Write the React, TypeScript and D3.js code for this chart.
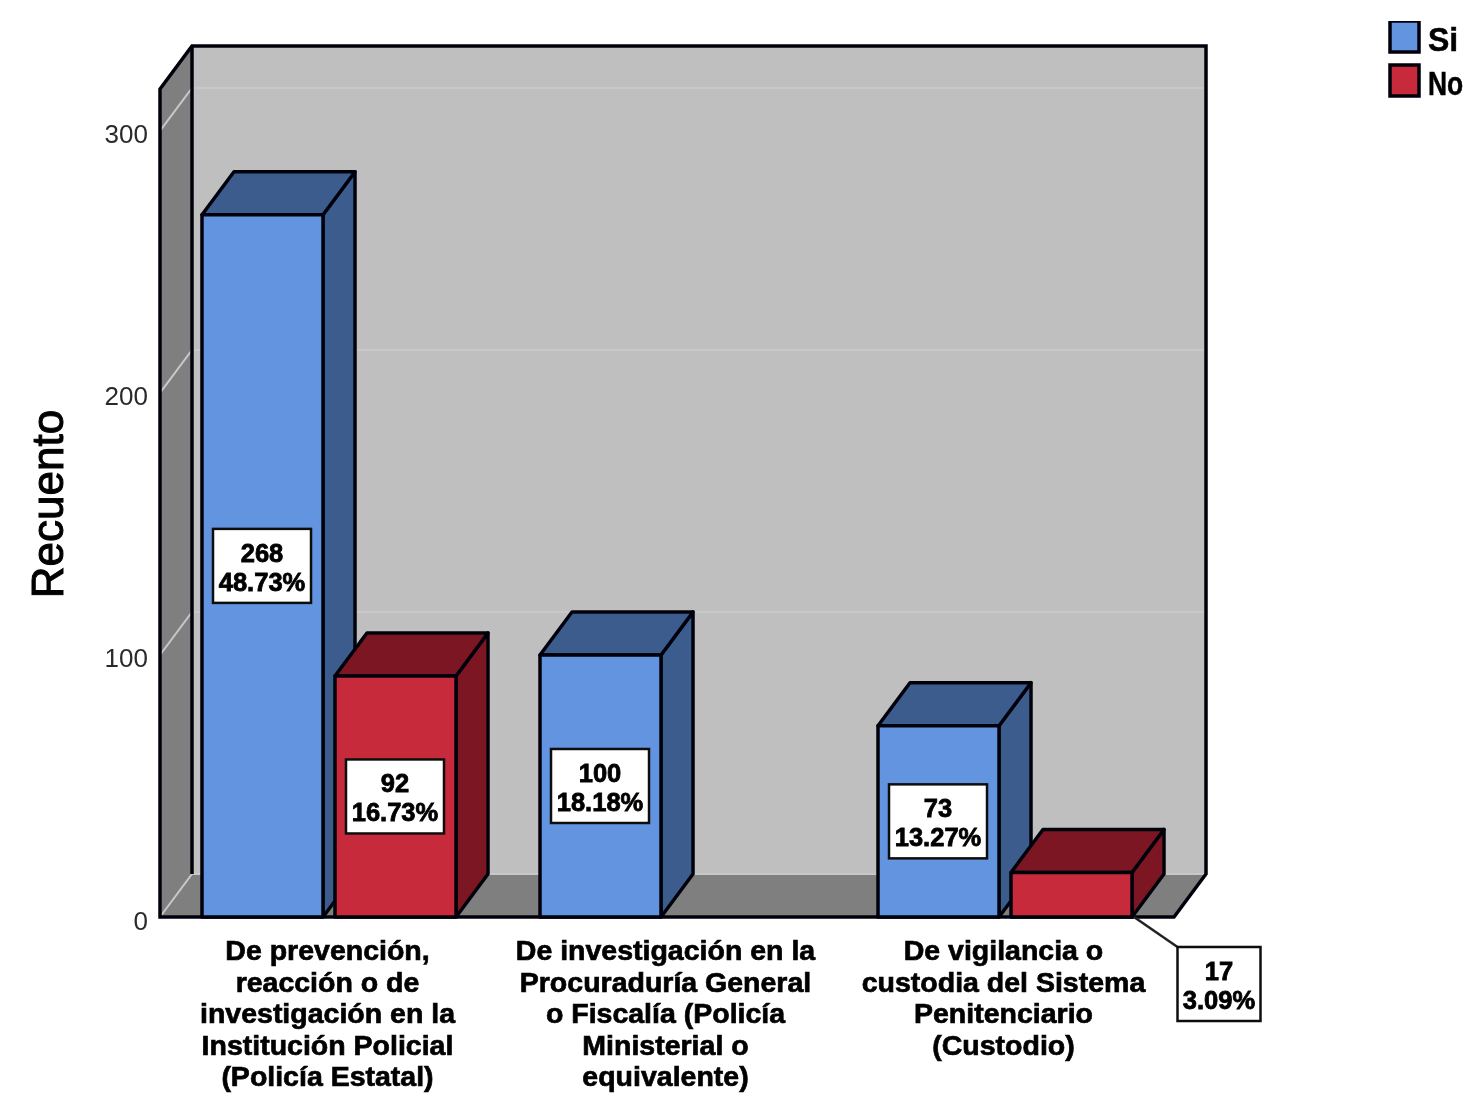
import React from 'react';
import * as d3 from 'd3';

const categories = [
  ['De prevención,', 'reacción o de', 'investigación en la', 'Institución Policial', '(Policía Estatal)'],
  ['De investigación en la', 'Procuraduría General', 'o Fiscalía (Policía', 'Ministerial o', 'equivalente)'],
  ['De vigilancia o', 'custodia del Sistema', 'Penitenciario', '(Custodio)'],
];
const seriesNames = ['Si', 'No'];
const siValues = [268, 100, 73];
const noValues = [92, null, 17];
const siPercents = ['48.73%', '18.18%', '13.27%'];
const noPercents = ['16.73%', null, '3.09%'];
const yTicks = [0, 100, 200, 300];

const width = 1465;
const height = 1096;
const font = '"Liberation Sans", Arial, sans-serif';

// oblique depth of the 3D box
const depthX = 32;
const depthY = -43;

const colors = {
  Si: { front: '#6394e0', dark: '#3d5c8e' },
  No: { front: '#c62a3b', dark: '#7c1421' },
};
const outline = '#02040a';
// legend text is squeezed so "No" stays inside the page
const legendTextScale = { Si: 0.97, No: 0.8 };

export default function App() {
  const groupIds = categories.map((_, i) => i);

  const x0 = d3.scaleBand<number>().domain(groupIds).range([160, 1174]).paddingInner(0.2485).paddingOuter(0.12425);
  const x1 = d3.scaleBand<string>().domain(seriesNames).range([0, x0.bandwidth()]).paddingInner(0.09);
  const y = d3.scaleLinear().domain([0, 316]).range([917, 89]);

  const left = x0.range()[0];
  const right = x0.range()[1];
  const floorY = y(0);
  const topY = y(316);

  const poly = (pts: number[][]) => pts.map((p) => p.join(',')).join(' ');

  const bars = seriesNames.flatMap((name, s) =>
    groupIds.map((g) => ({
      name,
      g,
      value: s === 0 ? siValues[g] : noValues[g],
      percent: s === 0 ? siPercents[g] : noPercents[g],
    }))
  ).filter((b) => b.value !== null);
  bars.sort((a, b) => a.g - b.g || seriesNames.indexOf(a.name) - seriesNames.indexOf(b.name));

  const labelStyle = { fontSize: 25.5, fontWeight: 'bold', fill: '#000', stroke: '#000', strokeWidth: 0.8 };

  return (
    <svg width={width} height={height} style={{ position: 'absolute', left: 0, top: 0, background: '#fff' }} fontFamily={font}>
      <defs>
        <filter id="soft" x="0" y="0" width="100%" height="100%">
          <feGaussianBlur stdDeviation="0.55" />
        </filter>
      </defs>
      <g filter="url(#soft)">
        {/* walls and floor */}
        <rect x={left + depthX} y={topY + depthY} width={right - left} height={floorY - topY} fill="#bfbfbf" />
        <polygon points={poly([[left, topY], [left + depthX, topY + depthY], [left + depthX, floorY + depthY], [left, floorY]])} fill="#7f7f7f" />
        <polygon points={poly([[left, floorY], [left + depthX, floorY + depthY], [right + depthX, floorY + depthY], [right, floorY]])} fill="#7f7f7f" />

        {/* gridlines run up the side wall and along the back */}
        {yTicks.map((t) => (
          <polyline
            key={t}
            points={poly([[left, y(t)], [left + depthX, y(t) + depthY], [right + depthX, y(t) + depthY]])}
            fill="none"
            stroke="#c8c8c8"
            strokeWidth={2}
          />
        ))}

        {/* box edges */}
        <path
          d={`M${left},${floorY}V${topY}L${left + depthX},${topY + depthY}H${right + depthX}V${floorY + depthY}L${right},${floorY}Z`}
          fill="none"
          stroke={outline}
          strokeWidth={3.5}
        />
        <line x1={left + depthX} x2={left + depthX} y1={topY + depthY} y2={floorY + depthY} stroke={outline} strokeWidth={3.5} />

        {/* bars */}
        {bars.map((b) => {
          const c = colors[b.name as keyof typeof colors];
          const xa = x0(b.g)! + x1(b.name)!;
          const xb = xa + x1.bandwidth();
          const yv = y(b.value as number);
          return (
            <g key={b.name + b.g} stroke={outline} strokeWidth={3.5} strokeLinejoin="round">
              <polygon points={poly([[xb, yv], [xb + depthX, yv + depthY], [xb + depthX, floorY + depthY], [xb, floorY]])} fill={c.dark} />
              <polygon points={poly([[xa, yv], [xa + depthX, yv + depthY], [xb + depthX, yv + depthY], [xb, yv]])} fill={c.dark} />
              <rect x={xa} y={yv} width={xb - xa} height={floorY - yv} fill={c.front} />
            </g>
          );
        })}

        {/* value labels */}
        {bars.map((b) => {
          const xa = x0(b.g)! + x1(b.name)!;
          const yv = y(b.value as number);
          const outside = (b.value as number) < 30;
          const cx = outside ? xa + x1.bandwidth() + 87 : xa + x1.bandwidth() / 2 - 0.5;
          const cy = outside ? floorY + 67 : (yv + floorY) / 2;
          const boxW = outside ? 83 : 98;
          return (
            <g key={'label' + b.name + b.g}>
              {outside && (
                <line x1={xa + x1.bandwidth() + 2} y1={floorY} x2={cx - boxW / 2} y2={cy - 37} stroke="#222" strokeWidth={2.5} />
              )}
              <rect x={cx - boxW / 2} y={cy - 37} width={boxW} height={74} fill="#fff" stroke="#111" strokeWidth={2.5} />
              <text x={cx} y={cy - 4} textAnchor="middle" style={labelStyle}>{b.value}</text>
              <text x={cx} y={cy + 25} textAnchor="middle" style={labelStyle}>{b.percent}</text>
            </g>
          );
        })}

        {/* y axis */}
        {yTicks.map((t) => (
          <text key={t} x={148} y={y(t) + 12.5} textAnchor="end" fontSize={26} fill="#2b2b2b">{t}</text>
        ))}
        <text transform="translate(63,504) rotate(-90)" textAnchor="middle" fontSize={44} fill="#000" stroke="#000" strokeWidth={1}>Recuento</text>

        {/* category labels */}
        {categories.map((lines, g) => (
          <text key={g} textAnchor="middle" fontSize={28.5} fontWeight="bold" fill="#000" stroke="#000" strokeWidth={0.7}>
            {lines.map((line, i) => (
              <tspan key={i} x={x0(g)! + x0.bandwidth() / 2 - 1.5} y={960 + i * 31.6}>{line}</tspan>
            ))}
          </text>
        ))}

        {/* legend */}
        {seriesNames.map((name, i) => (
          <g key={name} transform={`translate(1390,${21 + i * 44})`}>
            <rect width={29} height={31} fill={colors[name as keyof typeof colors].front} stroke={outline} strokeWidth={3.5} />
            <text
              transform={`translate(38,30) scale(${legendTextScale[name as keyof typeof legendTextScale]},1)`}
              fontSize={33}
              fontWeight="bold"
              fill="#000"
              stroke="#000"
              strokeWidth={0.5}
            >
              {name}
            </text>
          </g>
        ))}
      </g>
    </svg>
  );
}
